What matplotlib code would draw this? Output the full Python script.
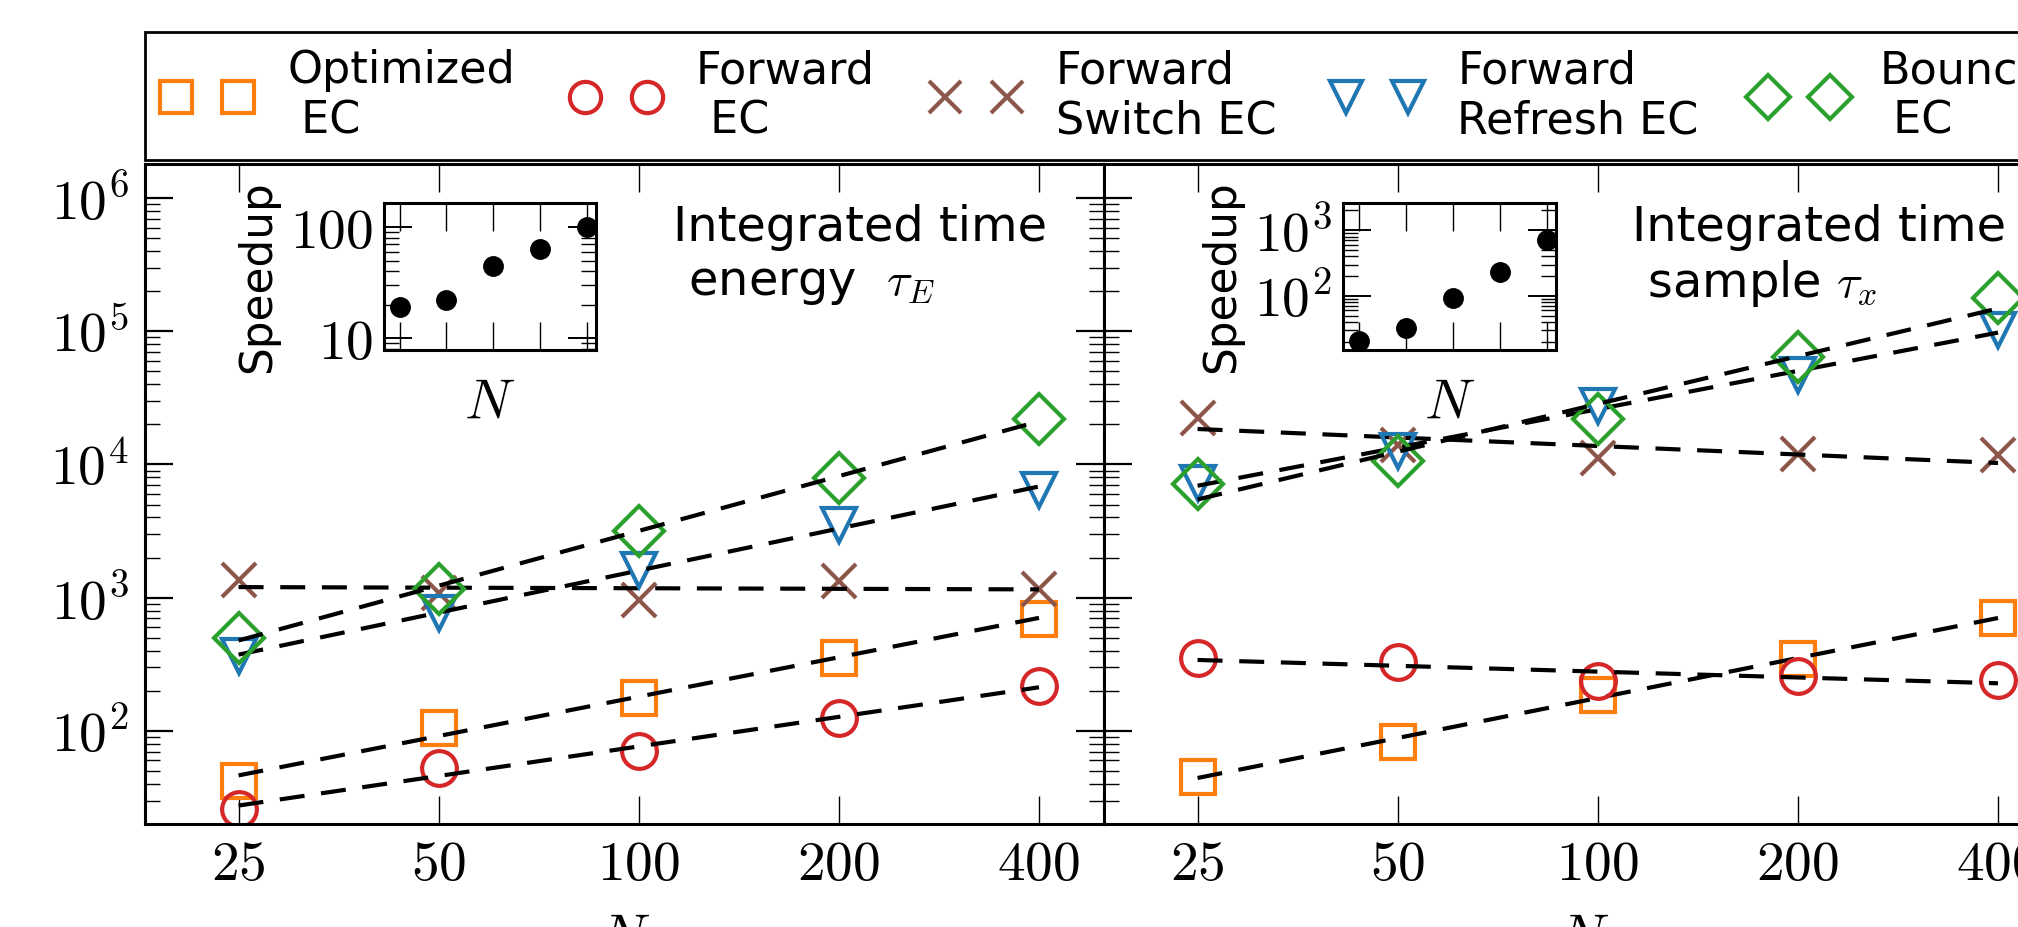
"""
Integrated autocorrelation times of several event-chain variants versus N,
for the energy (left) and for the sample (right), with speedup insets.
"""

import numpy as np
import matplotlib
matplotlib.use('Agg')
import matplotlib.pyplot as plt
from matplotlib.lines import Line2D
from matplotlib.ticker import NullLocator, FuncFormatter, LogLocator

plt.rcParams['font.family'] = ['DejaVu Sans']
plt.rcParams['mathtext.fontset'] = 'cm'

# system sizes
N = [25, 50, 100, 200, 400]
n_labels = ['$25$', '$50$', '$100$', '$200$', '$400$']

# integrated time of the energy tau_E (left panel)
tau_e_optimized = [42, 106, 178, 350, 695]
tau_e_forward = [26, 52.6, 70.7, 124, 218]
tau_e_switch = [1365, 1090, 966, 1343, 1170]
tau_e_refresh = [366, 770, 1620, 3530, 6460]
tau_e_bounce = [500, 1170, 3150, 7980, 21800]

# integrated time of the sample tau_x (right panel)
tau_x_optimized = [45.4, 83, 186, 348, 703]
tau_x_forward = [352, 327, 235, 259, 239]
tau_x_switch = [22400, 14100, 11200, 11900, 11700]
tau_x_refresh = [7200, 12600, 27300, 47000, 102000]
tau_x_bounce = [7080, 10600, 21800, 63700, 179000]

# speedups shown in the insets
speedup_e = [19, 22, 44.8, 63.4, 101]
speedup_x = [20.6, 32.6, 93, 232, 721]

labels = ['Optimized\n EC', 'Forward\n EC', 'Forward\nSwitch EC',
          'Forward\nRefresh EC', 'Bounce\n EC']
colors = ['#ff7f0e', '#d62728', '#8c564b', '#1f77b4', '#2ca02c']
markers = ['s', 'o', 'x', 'v', 'D']

W, H = 2018, 927


def px_box(x0, y0, x1, y1):
    """Figure-fraction rectangle from pixel corners (top-left origin)."""
    return [x0 / W, 1 - y1 / H, (x1 - x0) / W, (y1 - y0) / H]


def style_main(ax):
    ax.set_xscale('log', base=2)
    ax.set_yscale('log')
    ax.set_xlim(18.08, 501)
    ax.set_ylim(20, 1.8e6)
    ax.set_xticks(N)
    ax.set_xticklabels(n_labels)
    ax.xaxis.set_minor_locator(NullLocator())
    ax.yaxis.set_major_locator(LogLocator(base=10, numticks=20))
    ax.yaxis.set_minor_locator(LogLocator(base=10, subs=np.arange(2, 10), numticks=20))
    ax.yaxis.set_major_formatter(FuncFormatter(lambda v, p: r'$10^{%d}$' % round(np.log10(v))))
    ax.tick_params(which='both', direction='in', top=True, right=True)
    ax.tick_params(axis='x', which='major', length=20, width=1, labelsize=40, pad=10)
    ax.tick_params(axis='y', which='major', length=20, width=1.6, labelsize=40, pad=12)
    ax.tick_params(axis='y', which='minor', length=11, width=1)
    for s in ax.spines.values():
        s.set_linewidth(2.2)
    ax.set_xlabel('$N$', fontsize=40, labelpad=14)


def draw_panel(ax, series):
    for vals, c, m in zip(series, colors, markers):
        ax.plot(N, vals, ls='none', marker=m, ms=25, mfc='none', mec=c, color=c, mew=3)
        # power-law fit in log-log
        k, b = np.polyfit(np.log(N), np.log(vals), 1)
        ax.plot(N, np.exp(b) * np.array(N, dtype=float) ** k, color='k', lw=3,
                ls=(0, (6, 4)))


def style_inset(ax, ylim, yticks, ylabels):
    ax.set_xscale('log', base=2)
    ax.set_yscale('log')
    ax.set_xlim(19.8, 460)
    ax.set_ylim(*ylim)
    ax.set_xticks(N)
    ax.set_xticklabels([])
    ax.xaxis.set_minor_locator(NullLocator())
    ax.set_yticks(yticks)
    ax.set_yticklabels(ylabels)
    ax.yaxis.set_minor_locator(LogLocator(base=10, subs=np.arange(2, 10), numticks=20))
    ax.tick_params(which='both', direction='in', top=True, right=True)
    ax.tick_params(axis='x', which='major', length=20, width=1)
    ax.tick_params(axis='y', which='major', length=20, width=1.4, labelsize=40, pad=8)
    ax.tick_params(axis='y', which='minor', length=11, width=1)
    for s in ax.spines.values():
        s.set_linewidth(2.2)
    ax.set_xlabel('$N$', fontsize=40, labelpad=16)
    ax.set_ylabel('Speedup', fontsize=31.5, labelpad=8)


fig = plt.figure(figsize=(W / 100, H / 100), dpi=100)

ax_e = fig.add_axes(px_box(145, 164, 1104, 824))
ax_x = fig.add_axes(px_box(1104, 164, 2063, 824), sharey=ax_e)

draw_panel(ax_e, [tau_e_optimized, tau_e_forward, tau_e_switch, tau_e_refresh, tau_e_bounce])
draw_panel(ax_x, [tau_x_optimized, tau_x_forward, tau_x_switch, tau_x_refresh, tau_x_bounce])
style_main(ax_e)
style_main(ax_x)
ax_x.tick_params(labelleft=False)

ax_e.text(0.551, 0.94, 'Integrated time\n energy  $\\tau_E$', transform=ax_e.transAxes,
          fontsize=34.5, ha='left', va='top')
ax_x.text(0.551, 0.94, 'Integrated time\n sample $\\tau_x$', transform=ax_x.transAxes,
          fontsize=34.5, ha='left', va='top')

# insets with the speedup
ins_e = fig.add_axes(px_box(384, 203, 596, 350))
ins_e.plot(N, speedup_e, 'ko', ms=14)
style_inset(ins_e, (7.8, 165), [10, 100], ['$10$', '$100$'])

ins_x = fig.add_axes(px_box(1343, 203, 1556, 350))
ins_x.plot(N, speedup_x, 'ko', ms=14)
style_inset(ins_x, (15, 2600), [100, 1000], ['$10^{2}$', '$10^{3}$'])

# legend across both panels
handles = [Line2D([], [], ls='none', marker=m, ms=25, mfc='none', mec=c, color=c, mew=3)
           for c, m in zip(colors, markers)]
leg = fig.legend(handles, labels, loc='lower left', ncol=5, mode='expand',
                 bbox_to_anchor=(145 / W, 1 - 160 / H, 1918 / W, 0.13), borderaxespad=0,
                 numpoints=2, fontsize=32, markerscale=0.9, fancybox=False,
                 edgecolor='black', framealpha=1, handletextpad=0.8)
leg.get_frame().set_linewidth(2)

fig.savefig('out.png', dpi=100)
